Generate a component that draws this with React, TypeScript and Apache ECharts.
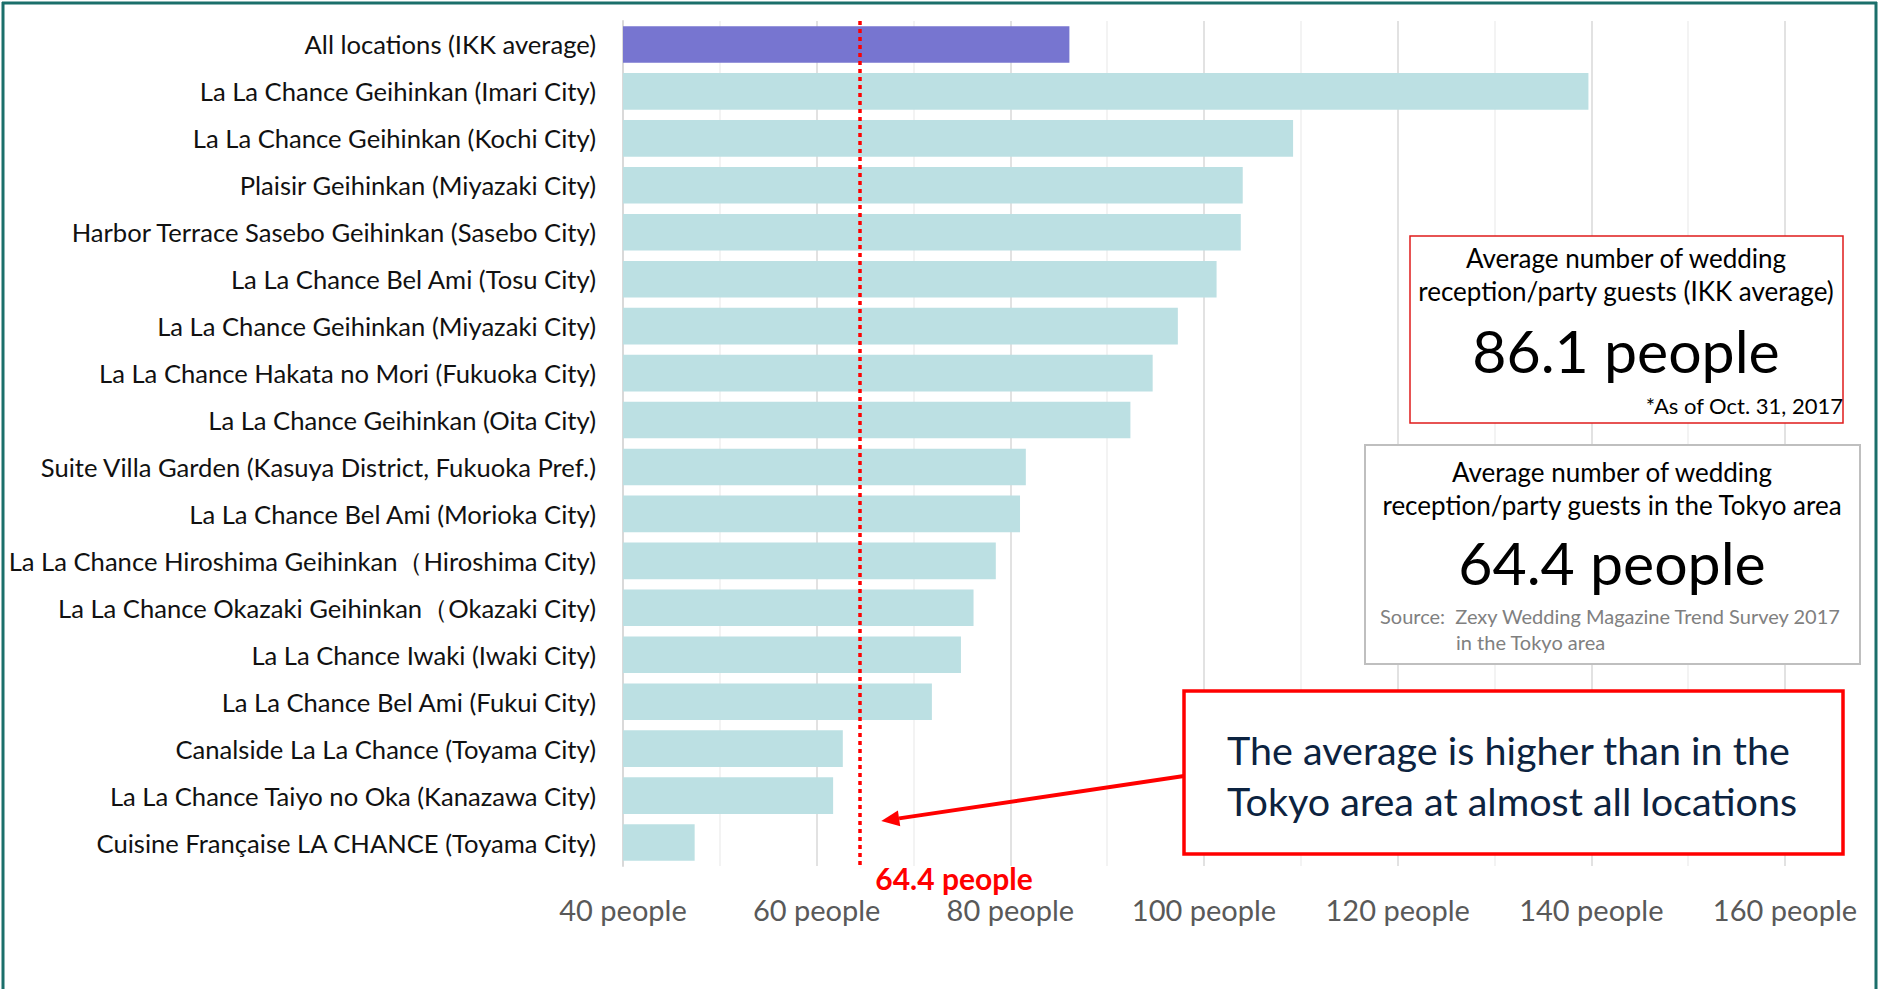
import React, { useEffect, useRef } from "react";
import * as echarts from "echarts";

const categories: string[] = [
  "All locations (IKK average)",
  "La La Chance Geihinkan (Imari City)",
  "La La Chance Geihinkan (Kochi City)",
  "Plaisir Geihinkan (Miyazaki City)",
  "Harbor Terrace Sasebo Geihinkan (Sasebo City)",
  "La La Chance Bel Ami (Tosu City)",
  "La La Chance Geihinkan (Miyazaki City)",
  "La La Chance Hakata no Mori (Fukuoka City)",
  "La La Chance Geihinkan (Oita City)",
  "Suite Villa Garden (Kasuya District, Fukuoka Pref.)",
  "La La Chance Bel Ami (Morioka City)",
  "La La Chance Hiroshima Geihinkan（Hiroshima City)",
  "La La Chance Okazaki Geihinkan（Okazaki City)",
  "La La Chance Iwaki (Iwaki City)",
  "La La Chance Bel Ami (Fukui City)",
  "Canalside La La Chance (Toyama City)",
  "La La Chance Taiyo no Oka (Kanazawa City)",
  "Cuisine Française LA CHANCE (Toyama City)",
];

const guests: number[] = [
  86.1, 139.7, 109.2, 104.0, 103.8, 101.3, 97.3, 94.7, 92.4, 81.6, 81.0, 78.5,
  76.2, 74.9, 71.9, 62.7, 61.7, 47.4,
];

const axisMin = 40;
const axisMax = 160;
const axisStep = 20;
const unitSuffix = " people";
const tokyoAverage = 64.4;
const ikkAverage = 86.1;

const FONT = "Lato";

export default function App() {
  const ref = useRef<HTMLDivElement>(null);

  useEffect(() => {
    if (!ref.current) return;
    const chart = echarts.init(ref.current, null, { renderer: "svg" });

    const gridLeft = 623;
    const gridTop = 21;
    const gridRight = 1879 - 1785;
    const gridBottom = 989 - 866;

    chart.setOption({
      animation: false,
      backgroundColor: "#ffffff",
      grid: {
        left: gridLeft,
        top: gridTop,
        right: gridRight,
        bottom: gridBottom,
        containLabel: false,
        outerBoundsMode: "none",
      },
      xAxis: {
        type: "value",
        min: axisMin,
        max: axisMax,
        interval: axisStep,
        axisLine: { show: false },
        axisTick: { show: false },
        axisLabel: {
          formatter: (v: number) => `${v}${unitSuffix}`,
          color: "#595959",
          fontFamily: FONT,
          fontSize: 29,
          margin: 29,
        },
        splitLine: { show: true, lineStyle: { color: "#d9d9d9", width: 1.5 } },
        minorTick: { show: false, splitNumber: 2 },
        minorSplitLine: { show: true, lineStyle: { color: "#efefef", width: 1.5 } },
      },
      yAxis: {
        type: "category",
        inverse: true,
        data: categories,
        axisLine: { show: true, lineStyle: { color: "#d9d9d9", width: 2 } },
        axisTick: { show: false },
        axisLabel: { color: "#111111", fontFamily: FONT, fontSize: 25.6, margin: 27 },
        splitLine: { show: false },
      },
      series: [
        {
          type: "bar",
          data: guests.map((v, i) => ({
            value: v,
            itemStyle: { color: i === 0 ? "#7775d0" : "#bce0e3" },
          })),
          barCategoryGap: "22%",
          markLine: {
            silent: true,
            symbol: "none",
            label: { show: false },
            lineStyle: { color: "#ff0000", type: [4, 4], width: 3.5, cap: "butt" },
            data: [{ xAxis: tokyoAverage }],
          },
          z: 2,
        },
      ],
    });

    const lineX = chart.convertToPixel({ xAxisIndex: 0 }, tokyoAverage) as number;
    const plotBottom = 989 - gridBottom;

    const tipX = lineX + 22;
    const tipY = 821;
    const startX = 1184;
    const startY = 776;
    const ang = Math.atan2(tipY - startY, tipX - startX);
    const headLen = 18;
    const headW = 8;
    const bx = tipX - headLen * Math.cos(ang);
    const by = tipY - headLen * Math.sin(ang);
    const px = -Math.sin(ang);
    const py = Math.cos(ang);

    const txt = (x: number, y: number, text: string, size: number, fill: string, align: string, weight = "normal") => ({
      type: "text",
      x,
      y,
      style: {
        text,
        fill,
        font: `${weight} ${size}px ${FONT}`,
        textAlign: align,
        textVerticalAlign: "middle",
      },
      z: 101,
    });

    chart.setOption({
      graphic: [
        // outer frame
        { type: "line", shape: { x1: 2, y1: 3, x2: 1877, y2: 3 }, style: { stroke: "#1b6f6b", lineWidth: 3 }, z: 100 },
        { type: "line", shape: { x1: 3, y1: 2, x2: 3, y2: 989 }, style: { stroke: "#1b6f6b", lineWidth: 3 }, z: 100 },
        { type: "line", shape: { x1: 1876, y1: 2, x2: 1876, y2: 989 }, style: { stroke: "#1b6f6b", lineWidth: 3 }, z: 100 },
        // Tokyo average label
        txt(lineX + 16, plotBottom + 12, `${tokyoAverage}${unitSuffix}`, 30, "#ff0000", "left", "bold"),
        // IKK average box
        {
          type: "rect",
          shape: { x: 1410, y: 236, width: 433, height: 187 },
          style: { fill: "#ffffff", stroke: "#e01b1b", lineWidth: 1.5 },
          z: 100,
        },
        txt(1626, 258, "Average number of wedding", 26, "#000", "center"),
        txt(1626, 291, "reception/party guests (IKK average)", 26, "#000", "center"),
        txt(1626, 350, `${ikkAverage}${unitSuffix}`, 59, "#000", "center"),
        txt(1843, 405, "*As of Oct. 31, 2017", 22, "#000", "right"),
        // Tokyo box
        {
          type: "rect",
          shape: { x: 1365, y: 445, width: 495, height: 219 },
          style: { fill: "#ffffff", stroke: "#bfbfbf", lineWidth: 2 },
          z: 100,
        },
        txt(1612, 472, "Average number of wedding", 26, "#000", "center"),
        txt(1612, 505, "reception/party guests in the Tokyo area", 26, "#000", "center"),
        txt(1612, 562, `${tokyoAverage}${unitSuffix}`, 59, "#000", "center"),
        txt(1380, 616, "Source:  Zexy Wedding Magazine Trend Survey 2017", 20, "#808080", "left"),
        txt(1456, 642, "in the Tokyo area", 20, "#808080", "left"),
        // message box
        {
          type: "rect",
          shape: { x: 1184, y: 691, width: 659, height: 163 },
          style: { fill: "#ffffff", stroke: "#ff0000", lineWidth: 3.5 },
          z: 100,
        },
        txt(1227, 749, "The average is higher than in the", 39.5, "#0c2340", "left"),
        txt(1227, 800, "Tokyo area at almost all locations", 39.5, "#0c2340", "left"),
        // arrow
        {
          type: "line",
          shape: { x1: startX, y1: startY, x2: bx, y2: by },
          style: { stroke: "#ff0000", lineWidth: 4 },
          z: 100,
        },
        {
          type: "polygon",
          shape: {
            points: [
              [tipX, tipY],
              [bx + px * headW, by + py * headW],
              [bx - px * headW, by - py * headW],
            ],
          },
          style: { fill: "#ff0000" },
          z: 100,
        },
      ],
    });

    return () => chart.dispose();
  }, []);

  return (
    <div
      ref={ref}
      style={{ position: "absolute", left: 0, top: 0, width: 1879, height: 989, background: "#ffffff" }}
    />
  );
}
